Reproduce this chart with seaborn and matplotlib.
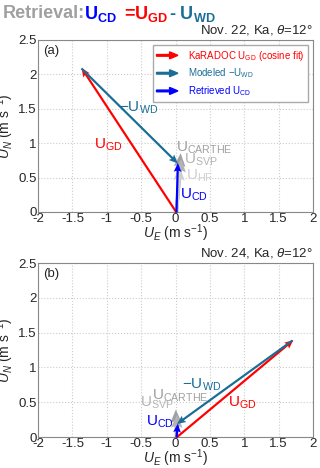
import numpy as np
import seaborn as sns
import matplotlib.pyplot as plt
from matplotlib.patches import FancyArrow
from matplotlib.legend_handler import HandlerPatch

# vector tips (m/s)
ugd_a = [-1.38, 2.10]
uwd_a = [1.40, -1.38]          # -U_WD drawn from tip of U_GD
ucd_a = [0.02, 0.72]
gray_a = [[0.06, 0.86], [0.07, 0.78], [0.05, 0.66]]   # CARTHE, SVP, HF

ugd_b = [1.70, 1.40]
uwd_b = [-1.68, -1.20]
ucd_b = [0.02, 0.20]
gray_b = [[-0.01, 0.40], [0.01, 0.33]]                # CARTHE, SVP

titles = ['Nov. 22, Ka, $\\theta$=12°', 'Nov. 24, Ka, $\\theta$=12°']
xticks = [-2, -1.5, -1, -0.5, 0, 0.5, 1, 1.5, 2]
yticks = [0, 0.5, 1, 1.5, 2, 2.5]

RED, TEAL, BLUE = '#ff0000', '#1a6d97', '#0000ff'
GRAYS = ['#a0a0a0', '#b4b4b4', '#d0d0d0']

sns.set_style('whitegrid', {'grid.linestyle': ':', 'grid.color': '#cccccc',
                            'axes.edgecolor': '#888888'})
plt.rcParams['font.family'] = ['Liberation Sans', 'DejaVu Sans']
plt.rcParams['mathtext.fontset'] = 'custom'
plt.rcParams['mathtext.rm'] = 'Liberation Sans'
plt.rcParams['mathtext.it'] = 'Liberation Sans:italic'
plt.rcParams['mathtext.bf'] = 'Liberation Sans:bold'
plt.rcParams['axes.unicode_minus'] = False

fig = plt.figure(figsize=(3.2, 4.68), dpi=100)
axa = fig.add_axes([38/320, 1-212/468, 275/320, 172/468])
axb = fig.add_axes([38/320, 1-437/468, 275/320, 174/468])


def arrow(ax, x0, y0, dx, dy, c, w=0.008, z=3):
    ax.quiver([x0], [y0], [dx], [dy], color=c, angles='xy', scale_units='xy',
              scale=1, width=w, headwidth=3.5, headlength=4, headaxislength=3.5,
              zorder=z)


def style(ax, title, tag):
    ax.set_xlim(-2, 2)
    ax.set_ylim(0, 2.5)
    ax.set_xticks(xticks)
    ax.set_xticklabels(['-2', '-1.5', '-1', '-0.5', '0', '0.5', '1', '1.5', '2'])
    ax.set_yticks(yticks)
    ax.set_yticklabels(['0', '0.5', '1', '1.5', '2', '2.5'])
    ax.tick_params(labelsize=9.5, pad=1, length=0)
    ax.set_xlabel('$U_E$ (m s$^{-1}$)', fontsize=10, labelpad=-2)
    ax.set_ylabel('$U_N$ (m s$^{-1}$)', fontsize=10)
    ax.yaxis.set_label_coords(-0.08, 0.5)
    ax.text(1.0, 1.015, title, transform=ax.transAxes, ha='right', va='bottom',
            fontsize=9.5)
    ax.text(0.02, 0.97, tag, transform=ax.transAxes, ha='left', va='top',
            fontsize=9.5)


# panel (a)
for g, c in zip(gray_a, GRAYS):
    arrow(axa, 0, 0, g[0], g[1], c, w=0.012, z=2)
arrow(axa, 0, 0, ugd_a[0], ugd_a[1], RED)
arrow(axa, ugd_a[0], ugd_a[1], uwd_a[0], uwd_a[1], TEAL)
arrow(axa, 0, 0, ucd_a[0], ucd_a[1], BLUE)
axa.text(-0.82, 1.51, '$-$U$_{\\mathrm{WD}}$', color=TEAL, fontsize=11, va='center')
axa.text(-1.18, 0.97, 'U$_{\\mathrm{GD}}$', color=RED, fontsize=11, va='center')
axa.text(0.07, 0.25, 'U$_{\\mathrm{CD}}$', color=BLUE, fontsize=11, va='center')
axa.text(0.01, 0.94, 'U$_{\\mathrm{CARTHE}}$', color=GRAYS[0], fontsize=11, va='center')
axa.text(0.13, 0.76, 'U$_{\\mathrm{SVP}}$', color=GRAYS[1], fontsize=11, va='center')
axa.text(0.16, 0.52, 'U$_{\\mathrm{HF}}$', color=GRAYS[2], fontsize=11, va='center')
style(axa, titles[0], '(a)')


def make_arrow(legend, orig_handle, xdescent, ydescent, width, height, fontsize):
    return FancyArrow(0, height / 2, width, 0, width=1.2, head_width=5,
                      head_length=6, length_includes_head=True,
                      color=orig_handle.get_facecolor())


handles = [FancyArrow(0, 0, 1, 0, color=c) for c in (RED, TEAL, BLUE)]
labels = ['KaRADOC U$_{\\mathrm{GD}}$ (cosine fit)', 'Modeled $-$U$_{\\mathrm{WD}}$',
          'Retrieved U$_{\\mathrm{CD}}$']
leg = axa.legend(handles, labels, loc='upper right', fontsize=7,
                 handler_map={FancyArrow: HandlerPatch(patch_func=make_arrow)},
                 handlelength=2.2, frameon=True, borderaxespad=0.5,
                 labelspacing=0.4, handletextpad=1.0, fancybox=False)
leg.get_frame().set_edgecolor('#aaaaaa')
leg.get_frame().set_alpha(1)
for t, c in zip(leg.get_texts(), (RED, TEAL, BLUE)):
    t.set_color(c)

# panel (b)
for g, c in zip(gray_b, GRAYS):
    arrow(axb, 0, 0, g[0], g[1], c, w=0.012, z=2)
arrow(axb, 0, 0, ugd_b[0], ugd_b[1], RED)
arrow(axb, ugd_b[0], ugd_b[1], uwd_b[0], uwd_b[1], TEAL)
arrow(axb, 0, 0, ucd_b[0], ucd_b[1], BLUE)
axb.text(0.09, 0.75, '$-$U$_{\\mathrm{WD}}$', color=TEAL, fontsize=11, va='center')
axb.text(0.76, 0.49, 'U$_{\\mathrm{GD}}$', color=RED, fontsize=11, va='center')
axb.text(-0.43, 0.22, 'U$_{\\mathrm{CD}}$', color=BLUE, fontsize=11, va='center')
axb.text(-0.34, 0.59, 'U$_{\\mathrm{CARTHE}}$', color=GRAYS[0], fontsize=11, va='center')
axb.text(-0.51, 0.49, 'U$_{\\mathrm{SVP}}$', color=GRAYS[1], fontsize=11, va='center')
style(axb, titles[1], '(b)')

# header line
y0 = 1 - 14/468
fig.text(3/320, y0, 'Retrieval:', color='#a0a0a0', fontsize=13,
         fontweight='bold', va='center')
fig.text(84/320, y0, 'U$_{\\mathbf{CD}}$', color=BLUE, fontsize=13,
         fontweight='bold', va='center')
fig.text(124/320, y0, '=U$_{\\mathbf{GD}}$', color=RED, fontsize=13,
         fontweight='bold', va='center')
fig.text(169/320, y0, '- U$_{\\mathbf{WD}}$', color=TEAL, fontsize=13,
         fontweight='bold', va='center')

fig.savefig('out.png', dpi=100)
